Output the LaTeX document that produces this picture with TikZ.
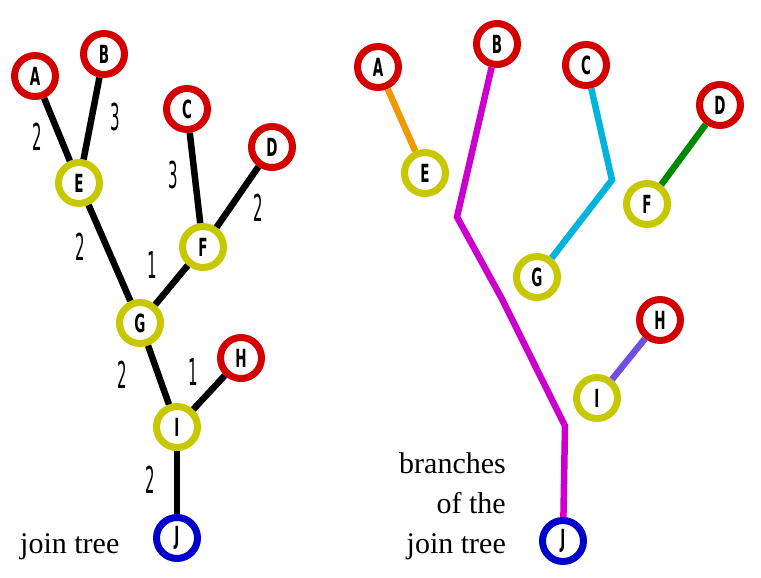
\documentclass[tikz,border=0pt]{standalone}
\usepackage{fontspec}
\usepackage{graphicx}
\setmainfont{Liberation Serif}
\newfontfamily\lblfont{DejaVu Sans Condensed}
\definecolor{cred}{RGB}{212,0,0}
\definecolor{cyel}{RGB}{200,200,0}
\definecolor{cblue}{RGB}{0,0,204}
\definecolor{corange}{RGB}{238,153,0}
\definecolor{cmag}{RGB}{204,0,204}
\definecolor{ccyan}{RGB}{0,180,220}
\definecolor{cgreen}{RGB}{0,136,0}
\definecolor{cpurple}{RGB}{112,80,224}
\newcommand{\nlab}[1]{\scalebox{0.6}[1]{\lblfont\fontsize{25}{25}\selectfont\bfseries #1}}
\newcommand{\elab}[1]{\scalebox{0.45}[1]{\lblfont\fontsize{37}{37}\selectfont #1}}
\tikzset{
  vtx/.style={circle,draw,line width=7pt,fill=white,minimum size=41pt,inner sep=0pt},
  leafr/.style={vtx,draw=cred},
  sepy/.style={vtx,draw=cyel},
  rootb/.style={vtx,draw=cblue},
  edge/.style={line width=6.5pt},
  wlab/.style={inner sep=0pt},
  txt/.style={font=\fontsize{30}{30}\selectfont,inner sep=0pt}
}
\begin{document}
\begin{tikzpicture}[x=1pt,y=-1pt]
\useasboundingbox (0,0) rectangle (761,578);
% ---------- left: join tree ----------
\node[leafr] (A) at (35,76) {\nlab{A}};
\node[leafr] (B) at (104,54) {\nlab{B}};
\node[leafr] (C) at (187,109) {\nlab{C}};
\node[leafr] (D) at (272,147) {\nlab{D}};
\node[sepy] (E) at (79,183) {\nlab{E}};
\node[sepy] (F) at (203,247) {\nlab{F}};
\node[sepy] (G) at (140,323) {\nlab{G}};
\node[leafr] (H) at (241,358) {\nlab{H}};
\node[sepy] (I) at (177,427) {\nlab{I}};
\node[rootb] (J) at (177,538) {\nlab{J}};
\draw[edge] (A) -- (E);
\draw[edge] (B) -- (E);
\draw[edge] (C) -- (F);
\draw[edge] (D) -- (F);
\draw[edge] (E) -- (G);
\draw[edge] (F) -- (G);
\draw[edge] (G) -- (I);
\draw[edge] (H) -- (I);
\draw[edge] (I) -- (J);
\node[wlab] (w1) at (37,137) {\elab{2}};
\node[wlab] (w2) at (115,117) {\elab{3}};
\node[wlab] (w3) at (173,175) {\elab{3}};
\node[wlab] (w4) at (258,208) {\elab{2}};
\node[wlab] (w5) at (80,247) {\elab{2}};
\node[wlab] (w6) at (152,265) {\elab{1}};
\node[wlab] (w7) at (122,375) {\elab{2}};
\node[wlab] (w8) at (193,372) {\elab{1}};
\node[wlab] (w9) at (150,480) {\elab{2}};
\node[txt,anchor=base west] (t1) at (20,553) {join tree};
% ---------- right: branches ----------
\node[leafr] (rA) at (378,67) {\nlab{A}};
\node[leafr] (rB) at (497,44) {\nlab{B}};
\node[leafr] (rC) at (586,65) {\nlab{C}};
\node[leafr] (rD) at (720,105) {\nlab{D}};
\node[sepy] (rE) at (425,173) {\nlab{E}};
\node[sepy] (rF) at (647,204) {\nlab{F}};
\node[sepy] (rG) at (537,277) {\nlab{G}};
\node[leafr] (rH) at (660,320) {\nlab{H}};
\node[sepy] (rI) at (597,398) {\nlab{I}};
\node[rootb] (rJ) at (563,541) {\nlab{J}};
\coordinate (m1) at (457,217);
\coordinate (m2) at (502,299);
\coordinate (m3) at (565,426);
\coordinate (c1) at (612,180);
\draw[edge,draw=corange] (rA) -- (rE);
\draw[edge,draw=cmag,line join=miter] (rB) -- (m1) -- (m2) -- (m3) -- (rJ);
\draw[edge,draw=ccyan,line join=miter] (rC) -- (c1) -- (rG);
\draw[edge,draw=cgreen] (rD) -- (rF);
\draw[edge,draw=cpurple] (rH) -- (rI);
\node[txt,anchor=base east] (t2) at (506,473) {branches};
\node[txt,anchor=base east] (t3) at (506,513) {of the};
\node[txt,anchor=base east] (t4) at (506,553) {join tree};
\end{tikzpicture}
\end{document}
